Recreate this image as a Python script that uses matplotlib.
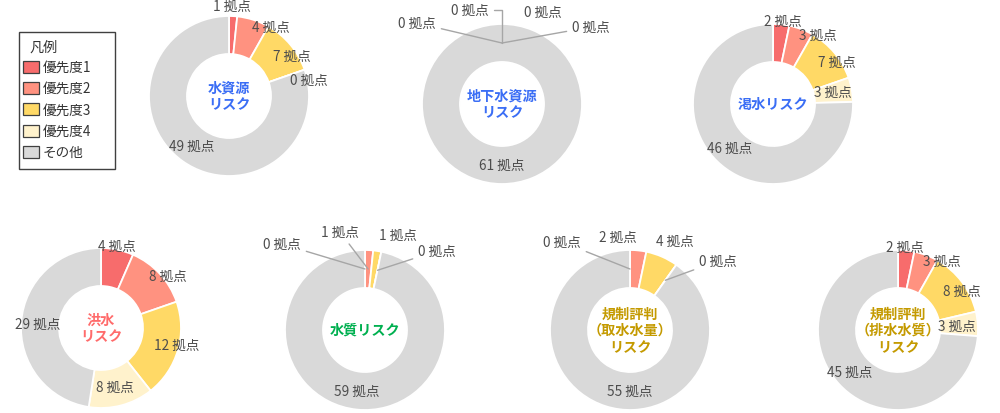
import matplotlib
matplotlib.use("Agg")
import matplotlib.pyplot as plt
from matplotlib.patches import Rectangle
import numpy as np

plt.rcParams["font.family"] = ["Noto Sans CJK JP", "DejaVu Sans"]

# data
categories = ["優先度1", "優先度2", "優先度3", "優先度4", "その他"]
chart_titles = [
    "水資源\nリスク",
    "地下水資源\nリスク",
    "渇水リスク",
    "洪水\nリスク",
    "水質リスク",
    "規制評判\n（取水水量）\nリスク",
    "規制評判\n（排水水質）\nリスク",
]
water_resource = [1, 4, 7, 0, 49]
groundwater = [0, 0, 0, 0, 61]
drought = [2, 3, 7, 3, 46]
flood = [4, 8, 12, 8, 29]
water_quality = [0, 1, 1, 0, 59]
reg_intake = [0, 2, 4, 0, 55]
reg_discharge = [2, 3, 8, 3, 45]
series = [water_resource, groundwater, drought, flood,
          water_quality, reg_intake, reg_discharge]
unit = "拠点"

# styles / layout
colors = ["#F76C6C", "#FF9280", "#FFD966", "#FFF2CC", "#D9D9D9"]
title_colors = ["#3B6EF5", "#3B6EF5", "#3B6EF5", "#FF6B6B",
                "#00B050", "#C49A00", "#C49A00"]
W, H = 1000, 414
R = 80
ring = 38
centers = [(229, 97), (502, 105), (773, 105),
           (101, 329), (365, 331), (630, 331), (898, 331)]
# label offsets from donut centre, in pixels (y downward)
label_offsets = [
    [(3, -90), (42, -69), (63, -40), (80, -16), (-37, 50)],
    [(-32, -94), (41, -92), (89, -77), (-85, -81), (0, 61)],
    [(10, -83), (45, -69), (64, -42), (60, -12), (-43, 44)],
    [(16, -82), (67, -52), (76, 17), (14, 59), (-63, -4)],
    [(-83, -86), (-25, -98), (33, -95), (72, -79), (-8, 61)],
    [(-68, -88), (-12, -93), (45, -89), (88, -69), (0, 61)],
    [(7, -83), (44, -69), (64, -39), (59, -4), (-48, 42)],
]
# 0 = no leader line, 1 = straight, 2 = elbow
leader = [
    [0, 0, 0, 0, 0],
    [2, 0, 1, 1, 0],
    [0, 0, 0, 0, 0],
    [0, 0, 0, 0, 0],
    [1, 1, 0, 1, 0],
    [1, 0, 0, 1, 0],
    [0, 0, 0, 0, 0],
]
text_color = "#4D4D4D"
label_size = 9.8

fig = plt.figure(figsize=(W / 100, H / 100), dpi=100)
ax = fig.add_axes([0, 0, 1, 1])

for i, vals in enumerate(series):
    cx, cy = centers[i]
    cy_d = H - cy
    ax.pie(
        vals,
        colors=colors,
        radius=R,
        center=(cx, cy_d),
        startangle=90,
        counterclock=False,
        wedgeprops=dict(width=ring, edgecolor="white", linewidth=1.3),
    )
    total = sum(vals)
    cum = np.cumsum([0] + vals)
    for j, v in enumerate(vals):
        dx, dy = label_offsets[i][j]
        pos = (cx + dx, cy_d - dy)
        txt = f"{v} {unit}"
        if leader[i][j]:
            mid = (cum[j] + v / 2) / total
            ang = np.deg2rad(90 - 360 * mid)
            rm = R - ring / 2
            target = (cx + rm * np.cos(ang), cy_d + rm * np.sin(ang))
            conn = "angle,angleA=0,angleB=90,rad=0" if leader[i][j] == 2 else "arc3"
            ax.annotate(txt, xy=target, xytext=pos, ha="center", va="center",
                        fontsize=label_size, color=text_color,
                        arrowprops=dict(arrowstyle="-", color="#A6A6A6",
                                        lw=1.0, shrinkA=2, shrinkB=0,
                                        connectionstyle=conn))
        else:
            ax.text(*pos, txt, ha="center", va="center",
                    fontsize=label_size, color=text_color)
    ax.text(cx, cy_d, chart_titles[i], ha="center", va="center",
            fontsize=10.2, fontweight="bold", color=title_colors[i],
            linespacing=1.25)

# legend box drawn by hand to match the reference frame
ax.add_patch(Rectangle((19, H - 170), 96, 137, facecolor="white",
                       edgecolor="#404040", linewidth=1.0))
ax.text(29, H - 48, "凡例", ha="left", va="center", fontsize=10.2, color="#333333")
for k, (name, c) in enumerate(zip(categories, colors)):
    yc = H - (68 + 21.2 * k)
    ax.add_patch(Rectangle((23, yc - 6), 16, 12, facecolor=c,
                           edgecolor="#404040", linewidth=0.9))
    ax.text(43, yc, name, ha="left", va="center", fontsize=label_size, color="#333333")

ax.set_xlim(0, W)
ax.set_ylim(0, H)
ax.set_aspect("equal")
ax.axis("off")
fig.savefig("out.png", dpi=100, facecolor="white")
